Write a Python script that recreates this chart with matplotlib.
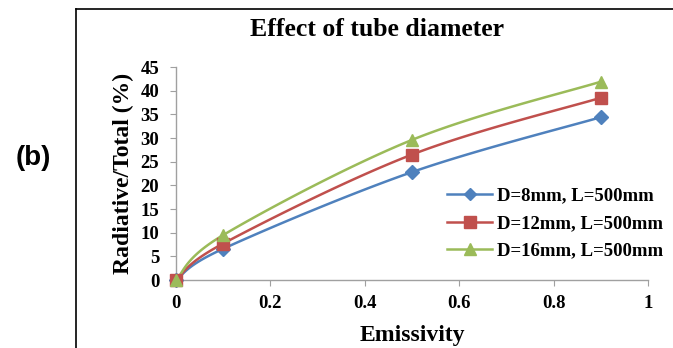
import numpy as np
import matplotlib

matplotlib.use("Agg")
import matplotlib.pyplot as plt
from matplotlib.lines import Line2D

plt.rcParams["font.family"] = ["Liberation Serif", "DejaVu Serif"]
plt.rcParams["font.weight"] = "bold"

# data
emissivity = [0.0, 0.1, 0.5, 0.9]
d8 = [0.0, 6.6, 22.8, 34.4]
d12 = [0.0, 7.7, 26.5, 38.5]
d16 = [0.0, 9.5, 29.6, 41.9]
labels = ["D=8mm, L=500mm", "D=12mm, L=500mm", "D=16mm, L=500mm"]
colors = ["#4F81BD", "#C0504D", "#9BBB59"]
markers = ["D", "s", "^"]
msizes = [7, 9, 9]


def smooth(x, y, n=40):
    # Excel-style smoothed line (Catmull-Rom through the points)
    x = np.asarray(x, float)
    y = np.asarray(y, float)
    px = np.concatenate([[x[0]], x, [x[-1]]])
    py = np.concatenate([[y[0]], y, [y[-1]]])
    xs, ys = [], []
    t = np.linspace(0, 1, n)
    for i in range(1, len(px) - 2):
        p0, p1, p2, p3 = (np.array([px[j], py[j]]) for j in (i - 1, i, i + 1, i + 2))
        c1 = p1 + (p2 - p0) / 6
        c2 = p2 - (p3 - p1) / 6
        b = ((1 - t) ** 3)[:, None] * p1 + (3 * (1 - t) ** 2 * t)[:, None] * c1 \
            + (3 * (1 - t) * t ** 2)[:, None] * c2 + (t ** 3)[:, None] * p2
        xs.extend(b[:, 0])
        ys.extend(b[:, 1])
    return xs, ys


fig = plt.figure(figsize=(6.73, 3.48), dpi=100)
ax = fig.add_axes([0.2615, 0.1954, 0.7013, 0.612])

handles = []
for ys, lab, c, m, ms in zip([d8, d12, d16], labels, colors, markers, msizes):
    sx, sy = smooth(emissivity, ys)
    ax.plot(sx, sy, color=c, lw=1.8, zorder=2, clip_on=False)
    ax.plot(emissivity, ys, linestyle="none", marker=m, color=c, ms=ms,
            zorder=3, clip_on=False)
    handles.append(Line2D([], [], color=c, lw=1.8, marker=m, ms=ms - 1))

ax.set_xlim(0, 1)
ax.set_ylim(0, 45)
ax.set_xticks(np.arange(0, 1.01, 0.2))
ax.set_xticklabels(["0", "0.2", "0.4", "0.6", "0.8", "1"])
ax.set_yticks(range(0, 46, 5))
for s in ["top", "right"]:
    ax.spines[s].set_visible(False)
for s in ["left", "bottom"]:
    ax.spines[s].set_color("#A0A0A0")
    ax.spines[s].set_linewidth(1.0)
ax.tick_params(colors="#A0A0A0", labelcolor="black", length=4, labelsize=13.5)
ax.tick_params(axis="x", pad=7)
ax.tick_params(axis="y", pad=8)
for lbl in ax.get_xticklabels() + ax.get_yticklabels():
    lbl.set_fontweight("bold")

ax.set_xlabel("Emissivity", fontsize=17, fontweight="bold", labelpad=9)
ax.set_ylabel("Radiative/Total (%)", fontsize=17, fontweight="bold", labelpad=5)
fig.text(0.56, 0.915, "Effect of tube diameter", fontsize=18.5, fontweight="bold",
         ha="center", va="center")

ax.legend(handles, labels, loc="center left", bbox_to_anchor=(0.539, 0.265),
          frameon=False, handlelength=2.4, labelspacing=0.55,
          handletextpad=0.27, prop={"weight": "bold", "size": 13.5})

fig.text(0.05, 0.545, "(b)", fontsize=20, fontweight="bold", ha="center",
         va="center", family=["Liberation Sans", "DejaVu Sans"])

# panel frame
fx = 75.5 / 673
fy = 1 - 8.5 / 348
fig.add_artist(Line2D([fx, fx], [0, fy], color="black", lw=1.2, transform=fig.transFigure))
fig.add_artist(Line2D([fx, 1], [fy, fy], color="black", lw=1.2, transform=fig.transFigure))

fig.savefig("out.png", dpi=100, facecolor="white")
